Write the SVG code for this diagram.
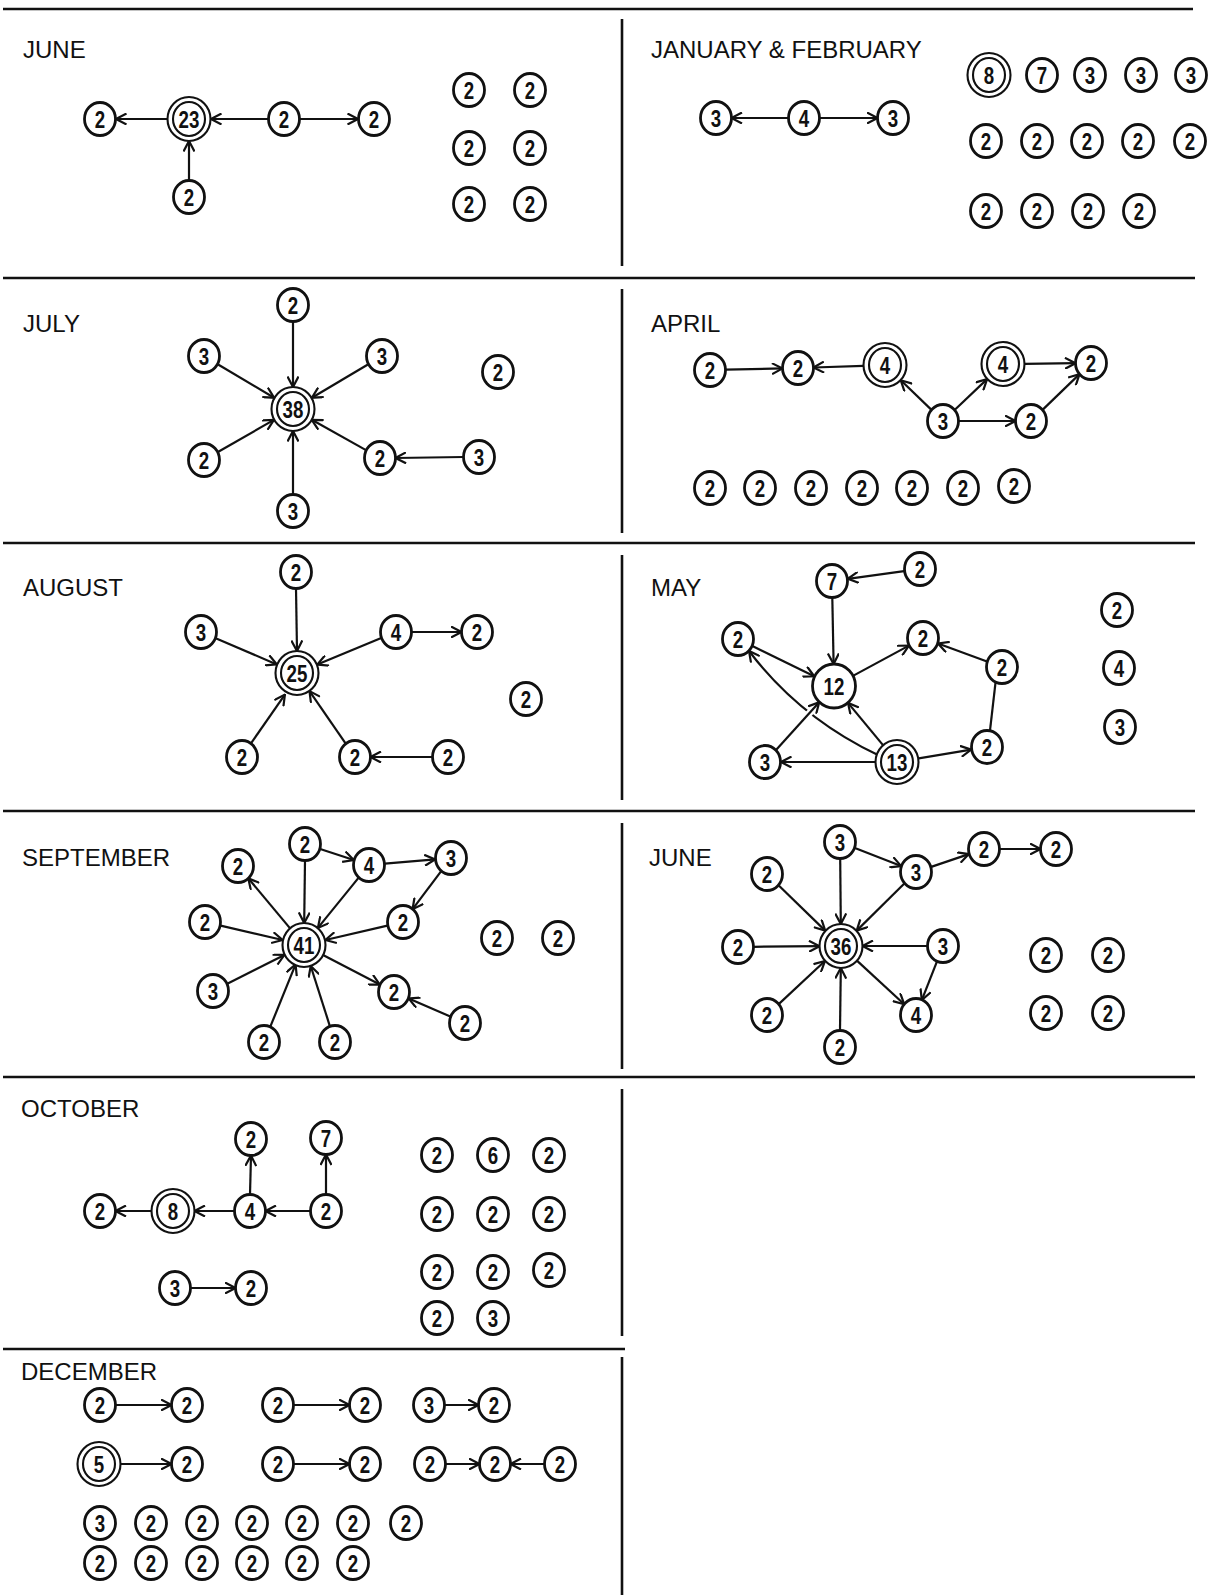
<svg xmlns="http://www.w3.org/2000/svg" width="1210" height="1595" viewBox="0 0 1210 1595">
<style>
.bg{fill:#fff}
.frame line{stroke:#111;stroke-width:2.6}
.lbl{font-family:"Liberation Sans",Arial,sans-serif;font-size:24px;fill:#111}
.n ellipse{fill:#fff;stroke:#111;stroke-width:2.8}
.d ellipse{stroke-width:2.1}
.n text{font-family:"Liberation Sans",Arial,sans-serif;font-weight:bold;font-size:24px;text-anchor:middle;fill:#111;transform:scaleX(0.78)}
#connectors line,#connectors path{stroke:#111;stroke-width:2.2;fill:none;marker-end:url(#a)}
#connectors line.halo{stroke:#fff;stroke-width:7;marker-end:none}
</style>
<defs>
<marker id="a" viewBox="0 0 12 12" refX="11" refY="6" markerWidth="12" markerHeight="12" markerUnits="userSpaceOnUse" orient="auto">
<path d="M0.5,0.5 L11,6 L0.5,11.5" fill="none" stroke="#111" stroke-width="2.2"/>
</marker>
</defs>
<rect class="bg" x="0" y="0" width="1210" height="1595"/>
<g id="frame" class="frame">
<line x1="3" y1="9" x2="1193" y2="9"/>
<line x1="3" y1="278" x2="1195" y2="278"/>
<line x1="3" y1="543" x2="1195" y2="543"/>
<line x1="3" y1="811" x2="1195" y2="811"/>
<line x1="3" y1="1077" x2="1195" y2="1077"/>
<line x1="3" y1="1349" x2="625" y2="1349"/>
<line x1="622" y1="19" x2="622" y2="266"/>
<line x1="622" y1="289" x2="622" y2="533"/>
<line x1="622" y1="555" x2="622" y2="800"/>
<line x1="622" y1="823" x2="622" y2="1069"/>
<line x1="622" y1="1089" x2="622" y2="1336"/>
<line x1="622" y1="1357" x2="622" y2="1595"/>
</g>
<g id="labels">
<text class="lbl" x="23" y="58">JUNE</text>
<text class="lbl" x="651" y="58">JANUARY &amp; FEBRUARY</text>
<text class="lbl" x="23" y="332">JULY</text>
<text class="lbl" x="651" y="332">APRIL</text>
<text class="lbl" x="23" y="596">AUGUST</text>
<text class="lbl" x="651" y="596">MAY</text>
<text class="lbl" x="22" y="866">SEPTEMBER</text>
<text class="lbl" x="649" y="866">JUNE</text>
<text class="lbl" x="21" y="1117">OCTOBER</text>
<text class="lbl" x="21" y="1380">DECEMBER</text>
</g>
<g id="connectors">
<line x1="167" y1="119" x2="116" y2="119"/>
<line x1="268" y1="119" x2="211" y2="119"/>
<line x1="300" y1="119" x2="358" y2="119"/>
<line x1="189" y1="180.5" x2="189" y2="141"/>
<line x1="788.5" y1="118" x2="731.5" y2="118"/>
<line x1="819.5" y1="118" x2="877.5" y2="118"/>
<line x1="293" y1="321.5" x2="293" y2="387"/>
<line x1="217.7" y1="364.2" x2="274.1" y2="397.7"/>
<line x1="368.3" y1="364.2" x2="311.9" y2="397.7"/>
<line x1="217.9" y1="452" x2="273.9" y2="419.9"/>
<line x1="366" y1="450.1" x2="311.8" y2="419.8"/>
<line x1="293" y1="494.5" x2="293" y2="431"/>
<line x1="463.5" y1="457" x2="395.5" y2="458"/>
<line x1="725.5" y1="369.6" x2="782.5" y2="368.4"/>
<line x1="863.5" y1="365.8" x2="813.5" y2="367.5"/>
<line x1="931.5" y1="409.9" x2="900.8" y2="380.3"/>
<line x1="954.6" y1="410" x2="987.1" y2="379.1"/>
<line x1="958.5" y1="421" x2="1015.5" y2="421"/>
<line x1="1024.5" y1="363.8" x2="1075.5" y2="363.2"/>
<line x1="1042.5" y1="409.9" x2="1079.5" y2="374.1"/>
<line x1="296" y1="588.5" x2="297" y2="651"/>
<line x1="215.7" y1="638.3" x2="276.8" y2="664.4"/>
<line x1="381.2" y1="638.1" x2="317.3" y2="664.6"/>
<line x1="411.5" y1="632" x2="461.5" y2="632"/>
<line x1="250.8" y1="743.6" x2="284.9" y2="694.6"/>
<line x1="345.9" y1="743.8" x2="309.5" y2="691.1"/>
<line x1="432.5" y1="757" x2="370.5" y2="757"/>
<line x1="904.1" y1="571.2" x2="847.9" y2="578.8"/>
<line x1="832.3" y1="597.5" x2="833.6" y2="664"/>
<line x1="752.4" y1="646" x2="814.2" y2="676.3"/>
<line x1="853.4" y1="675.6" x2="908.9" y2="645.6"/>
<line x1="987" y1="661.5" x2="938" y2="643.5"/>
<line x1="989.9" y1="731.3" x2="999.1" y2="651.3"/>
<line x1="918.7" y1="758.4" x2="971.2" y2="749.6"/>
<line x1="875" y1="762" x2="781" y2="762"/>
<line x1="883" y1="745.1" x2="848" y2="702.9"/>
<path d="M878,755 Q800,718 749,651"/>
<line class="halo" x1="802.8" y1="720.4" x2="816.2" y2="705.6"/>
<line x1="775.8" y1="750.2" x2="819.2" y2="702.3"/>
<line x1="289.9" y1="928.1" x2="248.3" y2="878.3"/>
<line x1="305" y1="860.5" x2="304.2" y2="923"/>
<line x1="320.2" y1="849" x2="353.8" y2="860"/>
<line x1="384.9" y1="863.6" x2="435.1" y2="859.4"/>
<line x1="358.9" y1="877.4" x2="317.9" y2="927.9"/>
<line x1="441.4" y1="870.8" x2="412.6" y2="909.2"/>
<line x1="387.4" y1="925.6" x2="325.4" y2="940"/>
<line x1="220.6" y1="925.6" x2="282.6" y2="940"/>
<line x1="227.3" y1="983.8" x2="284.4" y2="954.9"/>
<line x1="270.1" y1="1027.2" x2="295.6" y2="964.4"/>
<line x1="330.1" y1="1026.8" x2="310.7" y2="966"/>
<line x1="323.5" y1="955.2" x2="379.8" y2="984.6"/>
<line x1="450.3" y1="1016.6" x2="408.7" y2="998.4"/>
<line x1="840.2" y1="858.5" x2="840.8" y2="924"/>
<line x1="854.9" y1="847.9" x2="901.1" y2="866.1"/>
<line x1="931.2" y1="866.9" x2="968.8" y2="854.1"/>
<line x1="999.5" y1="849" x2="1040.5" y2="849"/>
<line x1="904.6" y1="883.2" x2="856.7" y2="930.6"/>
<line x1="778.5" y1="885.2" x2="825.2" y2="930.6"/>
<line x1="753.5" y1="946.8" x2="819.5" y2="946.2"/>
<line x1="927.5" y1="946" x2="862.5" y2="946"/>
<line x1="937.2" y1="960.9" x2="921.8" y2="1000.1"/>
<line x1="857.2" y1="960.9" x2="904.2" y2="1004.2"/>
<line x1="778.7" y1="1004.1" x2="824.9" y2="961"/>
<line x1="840" y1="1030.5" x2="840.8" y2="968"/>
<line x1="151.5" y1="1211" x2="115.5" y2="1211"/>
<line x1="234.5" y1="1211" x2="194.5" y2="1211"/>
<line x1="310.5" y1="1211" x2="265.5" y2="1211"/>
<line x1="250" y1="1194.5" x2="251" y2="1155.5"/>
<line x1="326" y1="1194.5" x2="326" y2="1154.5"/>
<line x1="190.5" y1="1288" x2="235.5" y2="1288"/>
<line x1="115.5" y1="1405" x2="171.5" y2="1405"/>
<line x1="293.5" y1="1405" x2="349.5" y2="1405"/>
<line x1="444.5" y1="1405" x2="478.5" y2="1405"/>
<line x1="120.5" y1="1464" x2="171.5" y2="1464"/>
<line x1="293.5" y1="1464" x2="349.5" y2="1464"/>
<line x1="445.5" y1="1464" x2="479.5" y2="1464"/>
<line x1="544.5" y1="1464" x2="510.5" y2="1464"/>
</g>
<g id="nodes">
<!-- JUNE (1) -->
<g id="jun1-a" class="n" transform="translate(100,119)"><ellipse rx="15.5" ry="16.5"/><text y="8.5">2</text></g>
<g id="jun1-hub" class="n d" transform="translate(189,119)"><ellipse rx="21.5" ry="22"/><ellipse rx="16" ry="17"/><text y="8.5">23</text></g>
<g id="jun1-c" class="n" transform="translate(284,119)"><ellipse rx="15.5" ry="16.5"/><text y="8.5">2</text></g>
<g id="jun1-d" class="n" transform="translate(374,119)"><ellipse rx="15.5" ry="16.5"/><text y="8.5">2</text></g>
<g id="jun1-e" class="n" transform="translate(189,197)"><ellipse rx="15.5" ry="16.5"/><text y="8.5">2</text></g>
<g id="jun1-i1" class="n" transform="translate(469,90)"><ellipse rx="15.5" ry="16.5"/><text y="8.5">2</text></g>
<g id="jun1-i2" class="n" transform="translate(530,90)"><ellipse rx="15.5" ry="16.5"/><text y="8.5">2</text></g>
<g id="jun1-i3" class="n" transform="translate(469,148)"><ellipse rx="15.5" ry="16.5"/><text y="8.5">2</text></g>
<g id="jun1-i4" class="n" transform="translate(530,148)"><ellipse rx="15.5" ry="16.5"/><text y="8.5">2</text></g>
<g id="jun1-i5" class="n" transform="translate(469,204)"><ellipse rx="15.5" ry="16.5"/><text y="8.5">2</text></g>
<g id="jun1-i6" class="n" transform="translate(530,204)"><ellipse rx="15.5" ry="16.5"/><text y="8.5">2</text></g>
<!-- JANUARY & FEBRUARY -->
<g id="jf-a" class="n" transform="translate(716,118)"><ellipse rx="15.5" ry="16.5"/><text y="8.5">3</text></g>
<g id="jf-b" class="n" transform="translate(804,118)"><ellipse rx="15.5" ry="16.5"/><text y="8.5">4</text></g>
<g id="jf-c" class="n" transform="translate(893,118)"><ellipse rx="15.5" ry="16.5"/><text y="8.5">3</text></g>
<g id="jf-i1" class="n d" transform="translate(989,75)"><ellipse rx="21.5" ry="22"/><ellipse rx="16" ry="17"/><text y="8.5">8</text></g>
<g id="jf-i2" class="n" transform="translate(1042,75)"><ellipse rx="15.5" ry="16.5"/><text y="8.5">7</text></g>
<g id="jf-i3" class="n" transform="translate(1090,75)"><ellipse rx="15.5" ry="16.5"/><text y="8.5">3</text></g>
<g id="jf-i4" class="n" transform="translate(1141,75)"><ellipse rx="15.5" ry="16.5"/><text y="8.5">3</text></g>
<g id="jf-i5" class="n" transform="translate(1191,75)"><ellipse rx="15.5" ry="16.5"/><text y="8.5">3</text></g>
<g id="jf-i6" class="n" transform="translate(986,141)"><ellipse rx="15.5" ry="16.5"/><text y="8.5">2</text></g>
<g id="jf-i7" class="n" transform="translate(1037,141)"><ellipse rx="15.5" ry="16.5"/><text y="8.5">2</text></g>
<g id="jf-i8" class="n" transform="translate(1087,141)"><ellipse rx="15.5" ry="16.5"/><text y="8.5">2</text></g>
<g id="jf-i9" class="n" transform="translate(1138,141)"><ellipse rx="15.5" ry="16.5"/><text y="8.5">2</text></g>
<g id="jf-i10" class="n" transform="translate(1190,141)"><ellipse rx="15.5" ry="16.5"/><text y="8.5">2</text></g>
<g id="jf-i11" class="n" transform="translate(986,211)"><ellipse rx="15.5" ry="16.5"/><text y="8.5">2</text></g>
<g id="jf-i12" class="n" transform="translate(1037,211)"><ellipse rx="15.5" ry="16.5"/><text y="8.5">2</text></g>
<g id="jf-i13" class="n" transform="translate(1088,211)"><ellipse rx="15.5" ry="16.5"/><text y="8.5">2</text></g>
<g id="jf-i14" class="n" transform="translate(1139,211)"><ellipse rx="15.5" ry="16.5"/><text y="8.5">2</text></g>
<!-- JULY -->
<g id="jul-hub" class="n d" transform="translate(293,409)"><ellipse rx="21.5" ry="22"/><ellipse rx="16" ry="17"/><text y="8.5">38</text></g>
<g id="jul-t" class="n" transform="translate(293,305)"><ellipse rx="15.5" ry="16.5"/><text y="8.5">2</text></g>
<g id="jul-ul" class="n" transform="translate(204,356)"><ellipse rx="15.5" ry="16.5"/><text y="8.5">3</text></g>
<g id="jul-ur" class="n" transform="translate(382,356)"><ellipse rx="15.5" ry="16.5"/><text y="8.5">3</text></g>
<g id="jul-ll" class="n" transform="translate(204,460)"><ellipse rx="15.5" ry="16.5"/><text y="8.5">2</text></g>
<g id="jul-lr" class="n" transform="translate(380,458)"><ellipse rx="15.5" ry="16.5"/><text y="8.5">2</text></g>
<g id="jul-fr" class="n" transform="translate(479,457)"><ellipse rx="15.5" ry="16.5"/><text y="8.5">3</text></g>
<g id="jul-b" class="n" transform="translate(293,511)"><ellipse rx="15.5" ry="16.5"/><text y="8.5">3</text></g>
<g id="jul-i1" class="n" transform="translate(498,372)"><ellipse rx="15.5" ry="16.5"/><text y="8.5">2</text></g>
<!-- APRIL -->
<g id="apr-a" class="n" transform="translate(710,370)"><ellipse rx="15.5" ry="16.5"/><text y="8.5">2</text></g>
<g id="apr-b" class="n" transform="translate(798,368)"><ellipse rx="15.5" ry="16.5"/><text y="8.5">2</text></g>
<g id="apr-c" class="n d" transform="translate(885,365)"><ellipse rx="21.5" ry="22"/><ellipse rx="16" ry="17"/><text y="8.5">4</text></g>
<g id="apr-d" class="n d" transform="translate(1003,364)"><ellipse rx="21.5" ry="22"/><ellipse rx="16" ry="17"/><text y="8.5">4</text></g>
<g id="apr-e" class="n" transform="translate(1091,363)"><ellipse rx="15.5" ry="16.5"/><text y="8.5">2</text></g>
<g id="apr-f" class="n" transform="translate(943,421)"><ellipse rx="15.5" ry="16.5"/><text y="8.5">3</text></g>
<g id="apr-g" class="n" transform="translate(1031,421)"><ellipse rx="15.5" ry="16.5"/><text y="8.5">2</text></g>
<g id="apr-i1" class="n" transform="translate(710,488)"><ellipse rx="15.5" ry="16.5"/><text y="8.5">2</text></g>
<g id="apr-i2" class="n" transform="translate(760,488)"><ellipse rx="15.5" ry="16.5"/><text y="8.5">2</text></g>
<g id="apr-i3" class="n" transform="translate(811,488)"><ellipse rx="15.5" ry="16.5"/><text y="8.5">2</text></g>
<g id="apr-i4" class="n" transform="translate(862,488)"><ellipse rx="15.5" ry="16.5"/><text y="8.5">2</text></g>
<g id="apr-i5" class="n" transform="translate(912,488)"><ellipse rx="15.5" ry="16.5"/><text y="8.5">2</text></g>
<g id="apr-i6" class="n" transform="translate(963,488)"><ellipse rx="15.5" ry="16.5"/><text y="8.5">2</text></g>
<g id="apr-i7" class="n" transform="translate(1014,486)"><ellipse rx="15.5" ry="16.5"/><text y="8.5">2</text></g>
<!-- AUGUST -->
<g id="aug-hub" class="n d" transform="translate(297,673)"><ellipse rx="21.5" ry="22"/><ellipse rx="16" ry="17"/><text y="8.5">25</text></g>
<g id="aug-t" class="n" transform="translate(296,572)"><ellipse rx="15.5" ry="16.5"/><text y="8.5">2</text></g>
<g id="aug-l" class="n" transform="translate(201,632)"><ellipse rx="15.5" ry="16.5"/><text y="8.5">3</text></g>
<g id="aug-r" class="n" transform="translate(396,632)"><ellipse rx="15.5" ry="16.5"/><text y="8.5">4</text></g>
<g id="aug-rr" class="n" transform="translate(477,632)"><ellipse rx="15.5" ry="16.5"/><text y="8.5">2</text></g>
<g id="aug-ll" class="n" transform="translate(242,757)"><ellipse rx="15.5" ry="16.5"/><text y="8.5">2</text></g>
<g id="aug-lm" class="n" transform="translate(355,757)"><ellipse rx="15.5" ry="16.5"/><text y="8.5">2</text></g>
<g id="aug-lr" class="n" transform="translate(448,757)"><ellipse rx="15.5" ry="16.5"/><text y="8.5">2</text></g>
<g id="aug-i1" class="n" transform="translate(526,699)"><ellipse rx="15.5" ry="16.5"/><text y="8.5">2</text></g>
<!-- MAY -->
<g id="may-7" class="n" transform="translate(832,581)"><ellipse rx="15.5" ry="16.5"/><text y="8.5">7</text></g>
<g id="may-a" class="n" transform="translate(920,569)"><ellipse rx="15.5" ry="16.5"/><text y="8.5">2</text></g>
<g id="may-b" class="n" transform="translate(738,639)"><ellipse rx="15.5" ry="16.5"/><text y="8.5">2</text></g>
<g id="may-12" class="n" transform="translate(834,686)"><ellipse rx="21.5" ry="22"/><text y="8.5">12</text></g>
<g id="may-c" class="n" transform="translate(923,638)"><ellipse rx="15.5" ry="16.5"/><text y="8.5">2</text></g>
<g id="may-d" class="n" transform="translate(1002,667)"><ellipse rx="15.5" ry="16.5"/><text y="8.5">2</text></g>
<g id="may-e" class="n" transform="translate(987,747)"><ellipse rx="15.5" ry="16.5"/><text y="8.5">2</text></g>
<g id="may-13" class="n d" transform="translate(897,762)"><ellipse rx="21.5" ry="22"/><ellipse rx="16" ry="17"/><text y="8.5">13</text></g>
<g id="may-3" class="n" transform="translate(765,762)"><ellipse rx="15.5" ry="16.5"/><text y="8.5">3</text></g>
<g id="may-i1" class="n" transform="translate(1117,610)"><ellipse rx="15.5" ry="16.5"/><text y="8.5">2</text></g>
<g id="may-i2" class="n" transform="translate(1119,668)"><ellipse rx="15.5" ry="16.5"/><text y="8.5">4</text></g>
<g id="may-i3" class="n" transform="translate(1120,727)"><ellipse rx="15.5" ry="16.5"/><text y="8.5">3</text></g>
<!-- SEPTEMBER -->
<g id="sep-hub" class="n d" transform="translate(304,945)"><ellipse rx="21.5" ry="22"/><ellipse rx="16" ry="17"/><text y="8.5">41</text></g>
<g id="sep-t" class="n" transform="translate(305,844)"><ellipse rx="15.5" ry="16.5"/><text y="8.5">2</text></g>
<g id="sep-4" class="n" transform="translate(369,865)"><ellipse rx="15.5" ry="16.5"/><text y="8.5">4</text></g>
<g id="sep-3" class="n" transform="translate(451,858)"><ellipse rx="15.5" ry="16.5"/><text y="8.5">3</text></g>
<g id="sep-ul" class="n" transform="translate(238,866)"><ellipse rx="15.5" ry="16.5"/><text y="8.5">2</text></g>
<g id="sep-l" class="n" transform="translate(205,922)"><ellipse rx="15.5" ry="16.5"/><text y="8.5">2</text></g>
<g id="sep-r" class="n" transform="translate(403,922)"><ellipse rx="15.5" ry="16.5"/><text y="8.5">2</text></g>
<g id="sep-ll" class="n" transform="translate(213,991)"><ellipse rx="15.5" ry="16.5"/><text y="8.5">3</text></g>
<g id="sep-lr" class="n" transform="translate(394,992)"><ellipse rx="15.5" ry="16.5"/><text y="8.5">2</text></g>
<g id="sep-far" class="n" transform="translate(465,1023)"><ellipse rx="15.5" ry="16.5"/><text y="8.5">2</text></g>
<g id="sep-bl" class="n" transform="translate(264,1042)"><ellipse rx="15.5" ry="16.5"/><text y="8.5">2</text></g>
<g id="sep-br" class="n" transform="translate(335,1042)"><ellipse rx="15.5" ry="16.5"/><text y="8.5">2</text></g>
<g id="sep-i1" class="n" transform="translate(497,938)"><ellipse rx="15.5" ry="16.5"/><text y="8.5">2</text></g>
<g id="sep-i2" class="n" transform="translate(558,938)"><ellipse rx="15.5" ry="16.5"/><text y="8.5">2</text></g>
<!-- JUNE (2) -->
<g id="jun2-hub" class="n d" transform="translate(841,946)"><ellipse rx="21.5" ry="22"/><ellipse rx="16" ry="17"/><text y="8.5">36</text></g>
<g id="jun2-t" class="n" transform="translate(840,842)"><ellipse rx="15.5" ry="16.5"/><text y="8.5">3</text></g>
<g id="jun2-3" class="n" transform="translate(916,872)"><ellipse rx="15.5" ry="16.5"/><text y="8.5">3</text></g>
<g id="jun2-a" class="n" transform="translate(984,849)"><ellipse rx="15.5" ry="16.5"/><text y="8.5">2</text></g>
<g id="jun2-b" class="n" transform="translate(1056,849)"><ellipse rx="15.5" ry="16.5"/><text y="8.5">2</text></g>
<g id="jun2-ul" class="n" transform="translate(767,874)"><ellipse rx="15.5" ry="16.5"/><text y="8.5">2</text></g>
<g id="jun2-l" class="n" transform="translate(738,947)"><ellipse rx="15.5" ry="16.5"/><text y="8.5">2</text></g>
<g id="jun2-r" class="n" transform="translate(943,946)"><ellipse rx="15.5" ry="16.5"/><text y="8.5">3</text></g>
<g id="jun2-ll" class="n" transform="translate(767,1015)"><ellipse rx="15.5" ry="16.5"/><text y="8.5">2</text></g>
<g id="jun2-4" class="n" transform="translate(916,1015)"><ellipse rx="15.5" ry="16.5"/><text y="8.5">4</text></g>
<g id="jun2-b2" class="n" transform="translate(840,1047)"><ellipse rx="15.5" ry="16.5"/><text y="8.5">2</text></g>
<g id="jun2-i1" class="n" transform="translate(1046,955)"><ellipse rx="15.5" ry="16.5"/><text y="8.5">2</text></g>
<g id="jun2-i2" class="n" transform="translate(1108,955)"><ellipse rx="15.5" ry="16.5"/><text y="8.5">2</text></g>
<g id="jun2-i3" class="n" transform="translate(1046,1013)"><ellipse rx="15.5" ry="16.5"/><text y="8.5">2</text></g>
<g id="jun2-i4" class="n" transform="translate(1108,1013)"><ellipse rx="15.5" ry="16.5"/><text y="8.5">2</text></g>
<!-- OCTOBER -->
<g id="oct-a" class="n" transform="translate(100,1211)"><ellipse rx="15.5" ry="16.5"/><text y="8.5">2</text></g>
<g id="oct-8" class="n d" transform="translate(173,1211)"><ellipse rx="21.5" ry="22"/><ellipse rx="16" ry="17"/><text y="8.5">8</text></g>
<g id="oct-4" class="n" transform="translate(250,1211)"><ellipse rx="15.5" ry="16.5"/><text y="8.5">4</text></g>
<g id="oct-r" class="n" transform="translate(326,1211)"><ellipse rx="15.5" ry="16.5"/><text y="8.5">2</text></g>
<g id="oct-t" class="n" transform="translate(251,1139)"><ellipse rx="15.5" ry="16.5"/><text y="8.5">2</text></g>
<g id="oct-7" class="n" transform="translate(326,1138)"><ellipse rx="15.5" ry="16.5"/><text y="8.5">7</text></g>
<g id="oct-3" class="n" transform="translate(175,1288)"><ellipse rx="15.5" ry="16.5"/><text y="8.5">3</text></g>
<g id="oct-b" class="n" transform="translate(251,1288)"><ellipse rx="15.5" ry="16.5"/><text y="8.5">2</text></g>
<g id="oct-i1" class="n" transform="translate(437,1155)"><ellipse rx="15.5" ry="16.5"/><text y="8.5">2</text></g>
<g id="oct-i2" class="n" transform="translate(493,1155)"><ellipse rx="15.5" ry="16.5"/><text y="8.5">6</text></g>
<g id="oct-i3" class="n" transform="translate(549,1155)"><ellipse rx="15.5" ry="16.5"/><text y="8.5">2</text></g>
<g id="oct-i4" class="n" transform="translate(437,1214)"><ellipse rx="15.5" ry="16.5"/><text y="8.5">2</text></g>
<g id="oct-i5" class="n" transform="translate(493,1214)"><ellipse rx="15.5" ry="16.5"/><text y="8.5">2</text></g>
<g id="oct-i6" class="n" transform="translate(549,1214)"><ellipse rx="15.5" ry="16.5"/><text y="8.5">2</text></g>
<g id="oct-i7" class="n" transform="translate(437,1272)"><ellipse rx="15.5" ry="16.5"/><text y="8.5">2</text></g>
<g id="oct-i8" class="n" transform="translate(493,1272)"><ellipse rx="15.5" ry="16.5"/><text y="8.5">2</text></g>
<g id="oct-i9" class="n" transform="translate(549,1270)"><ellipse rx="15.5" ry="16.5"/><text y="8.5">2</text></g>
<g id="oct-i10" class="n" transform="translate(437,1318)"><ellipse rx="15.5" ry="16.5"/><text y="8.5">2</text></g>
<g id="oct-i11" class="n" transform="translate(493,1318)"><ellipse rx="15.5" ry="16.5"/><text y="8.5">3</text></g>
<!-- DECEMBER -->
<g id="dec-a1" class="n" transform="translate(100,1405)"><ellipse rx="15.5" ry="16.5"/><text y="8.5">2</text></g>
<g id="dec-a2" class="n" transform="translate(187,1405)"><ellipse rx="15.5" ry="16.5"/><text y="8.5">2</text></g>
<g id="dec-b1" class="n" transform="translate(278,1405)"><ellipse rx="15.5" ry="16.5"/><text y="8.5">2</text></g>
<g id="dec-b2" class="n" transform="translate(365,1405)"><ellipse rx="15.5" ry="16.5"/><text y="8.5">2</text></g>
<g id="dec-c1" class="n" transform="translate(429,1405)"><ellipse rx="15.5" ry="16.5"/><text y="8.5">3</text></g>
<g id="dec-c2" class="n" transform="translate(494,1405)"><ellipse rx="15.5" ry="16.5"/><text y="8.5">2</text></g>
<g id="dec-d1" class="n d" transform="translate(99,1464)"><ellipse rx="21.5" ry="22"/><ellipse rx="16" ry="17"/><text y="8.5">5</text></g>
<g id="dec-d2" class="n" transform="translate(187,1464)"><ellipse rx="15.5" ry="16.5"/><text y="8.5">2</text></g>
<g id="dec-e1" class="n" transform="translate(278,1464)"><ellipse rx="15.5" ry="16.5"/><text y="8.5">2</text></g>
<g id="dec-e2" class="n" transform="translate(365,1464)"><ellipse rx="15.5" ry="16.5"/><text y="8.5">2</text></g>
<g id="dec-f1" class="n" transform="translate(430,1464)"><ellipse rx="15.5" ry="16.5"/><text y="8.5">2</text></g>
<g id="dec-f2" class="n" transform="translate(495,1464)"><ellipse rx="15.5" ry="16.5"/><text y="8.5">2</text></g>
<g id="dec-f3" class="n" transform="translate(560,1464)"><ellipse rx="15.5" ry="16.5"/><text y="8.5">2</text></g>
<g id="dec-g1" class="n" transform="translate(100,1523)"><ellipse rx="15.5" ry="16.5"/><text y="8.5">3</text></g>
<g id="dec-g2" class="n" transform="translate(151,1523)"><ellipse rx="15.5" ry="16.5"/><text y="8.5">2</text></g>
<g id="dec-g3" class="n" transform="translate(202,1523)"><ellipse rx="15.5" ry="16.5"/><text y="8.5">2</text></g>
<g id="dec-g4" class="n" transform="translate(252,1523)"><ellipse rx="15.5" ry="16.5"/><text y="8.5">2</text></g>
<g id="dec-g5" class="n" transform="translate(302,1523)"><ellipse rx="15.5" ry="16.5"/><text y="8.5">2</text></g>
<g id="dec-g6" class="n" transform="translate(353,1523)"><ellipse rx="15.5" ry="16.5"/><text y="8.5">2</text></g>
<g id="dec-g7" class="n" transform="translate(406,1523)"><ellipse rx="15.5" ry="16.5"/><text y="8.5">2</text></g>
<g id="dec-h1" class="n" transform="translate(100,1563)"><ellipse rx="15.5" ry="16.5"/><text y="8.5">2</text></g>
<g id="dec-h2" class="n" transform="translate(151,1563)"><ellipse rx="15.5" ry="16.5"/><text y="8.5">2</text></g>
<g id="dec-h3" class="n" transform="translate(202,1563)"><ellipse rx="15.5" ry="16.5"/><text y="8.5">2</text></g>
<g id="dec-h4" class="n" transform="translate(252,1563)"><ellipse rx="15.5" ry="16.5"/><text y="8.5">2</text></g>
<g id="dec-h5" class="n" transform="translate(302,1563)"><ellipse rx="15.5" ry="16.5"/><text y="8.5">2</text></g>
<g id="dec-h6" class="n" transform="translate(353,1563)"><ellipse rx="15.5" ry="16.5"/><text y="8.5">2</text></g>
</g>
</svg>
